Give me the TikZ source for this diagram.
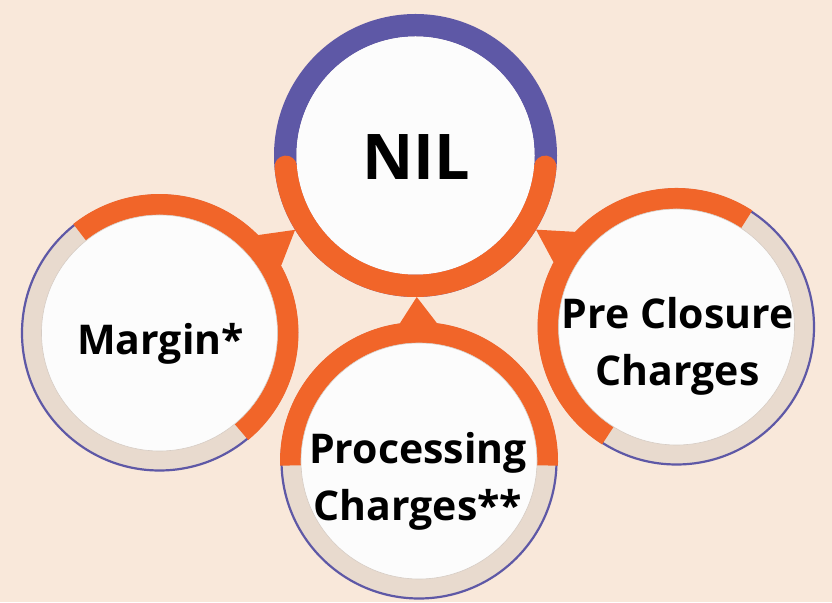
\documentclass[tikz,border=0pt]{standalone}
\usepackage{fontspec}
\setmainfont{Open Sans}
\usetikzlibrary{calc}
\definecolor{bgpeach}{RGB}{249,232,218}
\definecolor{ringpurple}{RGB}{94,88,166}
\definecolor{ringorange}{RGB}{241,101,41}
\definecolor{shade}{RGB}{232,218,206}
\definecolor{disc}{RGB}{252,252,252}
\definecolor{discedge}{RGB}{214,204,196}
\tikzset{
  whitedisc/.style={circle, fill=disc, draw=discedge, line width=0.6pt, inner sep=0pt, minimum size=236pt},
  thinring/.style={draw=ringpurple, line width=2.2pt, fill=shade},
  orangearc/.style={draw=ringorange, line width=21pt},
  connector/.style={fill=ringorange},
  bigtxt/.style={font=\fontsize{63}{70}\selectfont\bfseries, inner sep=0pt},
  smalltxt/.style={font=\fontsize{41}{57}\selectfont\bfseries, inner sep=0pt, align=center}
}
\begin{document}
\begin{tikzpicture}[x=1pt,y=1pt]
\fill[bgpeach] (0,0) rectangle (832,602);
\useasboundingbox (0,0) rectangle (832,602);
% centers
\coordinate (cN) at (415.5,446.5);
\coordinate (cL) at (159.5,269);
\coordinate (cR) at (676.5,275);
\coordinate (cB) at (419,141);
% top ring
\draw[draw=ringpurple, line width=22.5pt] (cN) circle[radius=130.25];
\draw[draw=ringorange, line width=22.5pt, line cap=round] ([shift={(185:130.25)}]cN) arc[start angle=185, end angle=355, radius=130.25];
% small rings
\path[thinring] (cL) circle[radius=137.5];
\draw[orangearc] ([shift={(-50.4:128.5)}]cL) arc[start angle=-50.4, end angle=128.4, radius=128.5];
\path[thinring] (cR) circle[radius=137.5];
\draw[orangearc] ([shift={(56.9:128.5)}]cR) arc[start angle=56.9, end angle=237.7, radius=128.5];
\path[thinring] (cB) circle[radius=137.5];
\draw[orangearc] ([shift={(-2:128.5)}]cB) arc[start angle=-2, end angle=182, radius=128.5];
% discs
\node[whitedisc, minimum size=238pt, draw=none] (nil) at (cN) {};
\node[whitedisc] (margin) at (cL) {};
\node[whitedisc] (preclose) at (cR) {};
\node[whitedisc] (proc) at (cB) {};
% connectors
\fill[connector] ([shift={(211.7:141.5)}]nil.center) -- ([shift={(44.8:139)}]margin.center) -- ([shift={(44.8:125)}]margin.center) -- ([shift={(29.1:125)}]margin.center) -- ([shift={(29.1:139.5)}]margin.center) -- cycle;
\fill[connector] ([shift={(-31.6:141.5)}]nil.center) -- ([shift={(136.8:139)}]preclose.center) -- ([shift={(136.8:125)}]preclose.center) -- ([shift={(152.1:125)}]preclose.center) -- ([shift={(152.1:139.5)}]preclose.center) -- cycle;
\fill[connector] ([shift={(-89.5:141.5)}]nil.center) -- ([shift={(97.8:139.3)}]proc.center) -- ([shift={(97.8:125)}]proc.center) -- ([shift={(82.7:125)}]proc.center) -- ([shift={(82.7:139.3)}]proc.center) -- cycle;
% texts
\node[bigtxt, anchor=base] (tnil) at (416.5,422) {NIL};
\node[smalltxt, anchor=base] (tmargin) at (160.5,247) {Margin*};
\node[smalltxt] (tpre) at (677.5,256) {Pre Closure\\Charges};
\node[smalltxt] (tproc) at (418,120.5) {Processing\\Charges**};
\end{tikzpicture}
\end{document}
